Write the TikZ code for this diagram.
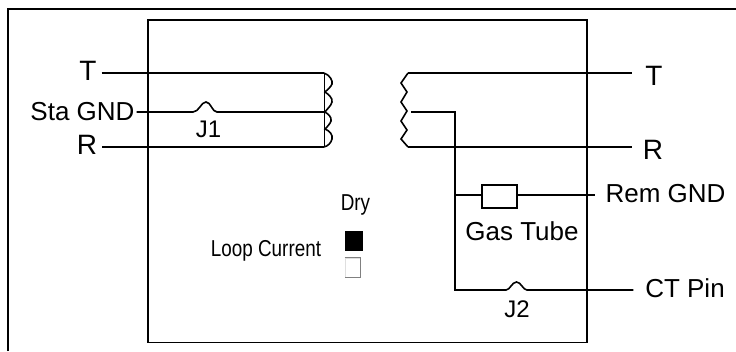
\documentclass[tikz,border=0pt]{standalone}
\usepackage{fontspec}
\setmainfont{Liberation Sans}
\begin{document}
\begin{tikzpicture}[x=1pt,y=-1pt,line width=1.6pt,
    lbl/.style={inner sep=0pt,font=\fontsize{26}{28}\selectfont},
    lblbig/.style={inner sep=0pt,font=\fontsize{28}{30}\selectfont},
    lblsmall/.style={inner sep=0pt,font=\fontsize{24}{26}\selectfont},
    lblnarrow/.style={inner sep=0pt,font=\fontsize{23}{25}\selectfont,xscale=.82}]
        \useasboundingbox (0,0) rectangle (736,351);
        \draw (8,351) -- (8,9) -- (736,9);
        \draw (148,20) rectangle (587,342.5);

        \node[lblbig,outer sep=5pt] (staT) at (88,71) {T};
        \node[lbl,outer sep=2pt] (staGnd) at (82.5,112) {Sta GND};
        \node[lblbig,outer sep=5pt] (staR) at (87,145) {R};
        \node[lblbig,outer sep=13pt] (remT) at (654,76) {T};
        \node[lblbig,outer sep=11pt] (remR) at (653,150) {R};
        \node[lbl,outer sep=11pt] (remGnd) at (665.5,194) {Rem GND};
        \node[lbl,outer sep=12pt] (ctPin) at (685,288) {CT Pin};
        \node[lblsmall] (j1) at (208.5,129) {J1};
        \node[lblsmall] (j2) at (517,309) {J2};
        \node[lbl] (gasLabel) at (522,231) {Gas Tube};
        \node[lblnarrow] (dry) at (355.5,205) {Dry};
        \node[lblnarrow] (loop) at (266,251) {Loop Current};

        \node[draw,minimum width=35pt,minimum height=23pt,inner sep=0pt] (gasTube) at (499.5,196.5) {};
        \node[fill=black,minimum width=18pt,minimum height=20pt,inner sep=0pt] (dryOn) at (354,241) {};
        \node[draw=gray!25,line width=.7pt,minimum width=15pt,minimum height=19pt,inner sep=0pt] (dryOff) at (352.5,267.5) {};
        \draw[gray,line width=.8pt] (dryOff.north west) -- (dryOff.north east) -- (dryOff.south east) -- (dryOff.south west);

        \coordinate (coilLT) at (324,73);
        \coordinate (coilLM) at (324,112);
        \coordinate (coilLB) at (324,147);
        \coordinate (coilRT) at (408,73);
        \coordinate (coilRM) at (411,112);
        \coordinate (coilRB) at (408,147);
        \coordinate (tubeTap) at (455,195);
        \coordinate (pinTap) at (455,290);

        \draw (coilLT -| staT.east) -- (coilLT);
        \draw (coilLM -| staGnd.east) -- (193,112) .. controls (199,112) and (201,102) .. (206,102) .. controls (211,102) and (212,112) .. (217,112) -- (coilLM);
        \draw (coilLB -| staR.east) -- (coilLB);
        \draw[line width=1pt] (coilLT) -- (coilLB);
        \draw (coilLT) .. controls (330,75) and (333,81) .. (332,84) .. controls (331,87) and (327,90) .. (325,92)
            .. controls (328,94) and (333,98) .. (332,102) .. controls (331,106) and (327,109) .. (325,112)
            .. controls (328,114) and (332,117) .. (331,121) .. controls (330,124) and (327,127) .. (325,129)
            .. controls (330,131) and (333,135) .. (332,139) .. controls (331,143) and (328,146) .. (coilLB);

        \draw (coilRT) -- (coilRT -| remT.west);
        \draw (coilRB) -- (coilRB -| remR.west);
        \draw (coilRT) -- (401,83) -- (407,92) -- (401,102) -- (407,111) -- (401,121) -- (407,130) -- (401,139) -- (coilRB);
        \draw (coilRM) -- (455,112) -- (pinTap) -- (506,290) .. controls (510,290) and (512,282) .. (516.5,282) .. controls (521,282) and (523,290) .. (527,290) -- (ctPin.west |- pinTap);
        \draw (tubeTap) -- (tubeTap -| gasTube.west);
        \draw (tubeTap -| gasTube.east) -- (tubeTap -| remGnd.west);
    \end{tikzpicture}
\end{document}
